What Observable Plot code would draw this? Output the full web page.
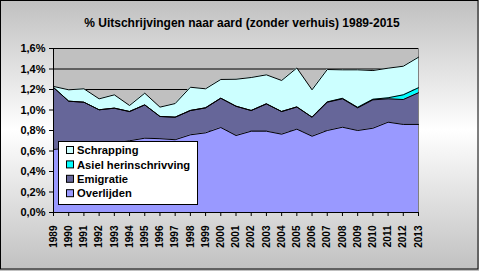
<!DOCTYPE html>
<html><head><meta charset="utf-8">
<script src="https://cdn.jsdelivr.net/npm/d3@7"></script>
<script src="https://cdn.jsdelivr.net/npm/@observablehq/plot@0.6"></script>
<style>
html,body{margin:0;padding:0;background:#fff;}
body{width:479px;height:271px;overflow:hidden;}
</style></head><body><div id="chart"></div>
<script>
const years = [1989,1990,1991,1992,1993,1994,1995,1996,1997,1998,1999,2000,2001,2002,2003,2004,2005,2006,2007,2008,2009,2010,2011,2012,2013];
const overlijden = [0.615,0.63,0.64,0.66,0.68,0.70,0.725,0.72,0.71,0.758,0.777,0.829,0.751,0.793,0.793,0.764,0.813,0.744,0.80,0.832,0.80,0.822,0.881,0.859,0.859];
const emigratie  = [0.605,0.456,0.436,0.342,0.338,0.285,0.325,0.217,0.22,0.237,0.244,0.286,0.286,0.202,0.267,0.221,0.217,0.186,0.276,0.277,0.221,0.277,0.228,0.243,0.309];
const asiel      = [0,0,0,0,0,0,0,0,0,0,0,0,0,0,0,0,0,0,0.003,0.005,0.005,0.006,0.01,0.046,0.049];
const schrapping = [0.01,0.111,0.131,0.107,0.13,0.059,0.114,0.091,0.133,0.227,0.186,0.183,0.263,0.322,0.283,0.303,0.38,0.267,0.316,0.278,0.366,0.28,0.289,0.279,0.298];
const seriesNames = ["Overlijden","Emigratie","Asiel herinschrivving","Schrapping"];
const seriesColors = ["#9999FF","#666699","#00FFFF","#CCFFFF"];
const yTicks = [0,0.2,0.4,0.6,0.8,1.0,1.2,1.4,1.6];
const title = "% Uitschrijvingen naar aard (zonder verhuis) 1989-2015";

const columns = [overlijden, emigratie, asiel, schrapping];
const data = [];
seriesNames.forEach((s,k) => years.forEach((yr,i) => data.push({year: yr, series: s, value: columns[k][i]})));

const fmt = d => d.toFixed(1).replace(".", ",") + "%";
const font = "'Liberation Sans', Arial, sans-serif";

const chart = Plot.plot({
  width: 479, height: 271,
  marginLeft: 53, marginRight: 61, marginTop: 48, marginBottom: 59,
  style: {background: "linear-gradient(#C0C0C0, #FFFFFF 48%, #C0C0C0)", fontFamily: font, fontWeight: "bold", color: "black", overflow: "visible"},
  x: {domain: [1989, 2013]},
  y: {domain: [0, 1.6]},
  color: {domain: seriesNames, range: seriesColors},
  marks: [
    Plot.frame({fill: "#C0C0C0", stroke: "#808080"}),
    Plot.ruleY(yTicks.slice(1), {stroke: "black", strokeWidth: 1}),
    Plot.areaY(data, {x: "year", y: "value", z: "series", fill: "series", fillOpacity: 1}),
    Plot.lineY(data, Plot.stackY2({x: "year", y: "value", z: "series", stroke: "black", strokeWidth: 1})),
    Plot.ruleX([1989], {stroke: "black"}),
    Plot.ruleY([0], {stroke: "black"}),
    Plot.axisY({ticks: yTicks, tickFormat: fmt, tickSize: 4, tickPadding: 4, fontSize: 11, label: null}),
    Plot.axisX({ticks: years, tickFormat: d => String(d), tickSize: 4, tickRotate: -90, tickPadding: 9, fontSize: 10, label: null})
  ]
});

const svg = d3.select(chart);
svg.append("text").attr("x", 242).attr("y", 27).attr("text-anchor", "middle")
  .attr("font-size", 12).attr("font-weight", "bold").attr("font-family", font).text(title);

const lg = svg.append("g").attr("font-family", font).attr("font-weight", "bold").attr("font-size", 11.2).attr("text-anchor", "start");
lg.append("rect").attr("x", 58.5).attr("y", 141.5).attr("width", 139).attr("height", 63).attr("fill", "white").attr("stroke", "black");
const legendOrder = [3,2,1,0];
legendOrder.forEach((k, j) => {
  const cy = 150 + j * 14.4;
  lg.append("rect").attr("x", 66.5).attr("y", cy - 3.5).attr("width", 7).attr("height", 7).attr("fill", seriesColors[k]).attr("stroke", "black");
  lg.append("text").attr("x", 77).attr("y", cy + 4.2).attr("text-anchor", "start").text(seriesNames[k]);
});
svg.append("rect").attr("x", 0.5).attr("y", 0.5).attr("width", 477.5).attr("height", 268.5).attr("fill", "none").attr("stroke", "black");

document.getElementById("chart").appendChild(chart);
</script></body></html>
